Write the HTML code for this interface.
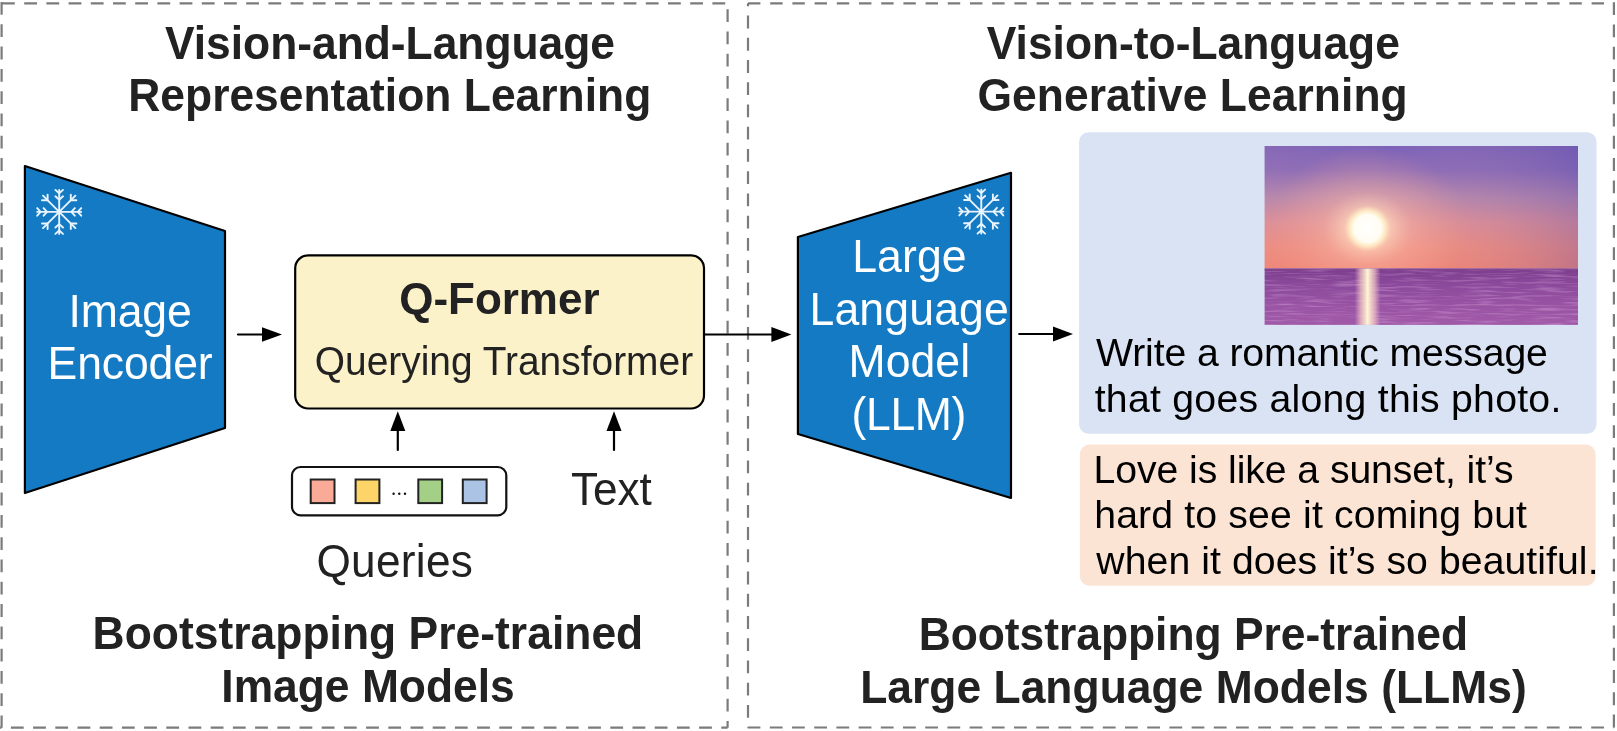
<!DOCTYPE html>
<html><head><meta charset="utf-8">
<style>
html,body{margin:0;padding:0;background:#fff;width:1617px;height:731px;overflow:hidden}
svg{display:block;will-change:transform}
text{font-family:"Liberation Sans",sans-serif}
</style></head>
<body>
<svg width="1617" height="731" viewBox="0 0 1617 731">
<defs>
  <g id="flake" stroke="#eaf4ff" stroke-width="1.9" fill="none" stroke-linecap="round" stroke-linejoin="round">
    <path d="M0,-22 V22 M-22,0 H22 M-16.2,-16.2 L16.2,16.2 M-16.2,16.2 L16.2,-16.2"/>
    <g id="arm">
      <path d="M-3.8,-22 L0,-18.6 L3.8,-22 M-3.8,-15.6 L0,-12.2 L3.8,-15.6"/>
    </g>
    <use href="#arm" transform="rotate(90)"/>
    <use href="#arm" transform="rotate(180)"/>
    <use href="#arm" transform="rotate(270)"/>
    <g id="darm"><path d="M-11.6,-17.2 L-11.6,-11.6 L-17.2,-11.6"/></g>
    <use href="#darm" transform="rotate(90)"/>
    <use href="#darm" transform="rotate(180)"/>
    <use href="#darm" transform="rotate(270)"/>
  </g>
  <linearGradient id="sky" x1="0" y1="0" x2="0" y2="1">
    <stop offset="0" stop-color="#7c62b8"/>
    <stop offset="0.2" stop-color="#8a6bb8"/>
    <stop offset="0.42" stop-color="#b486ae"/>
    <stop offset="0.62" stop-color="#dc8e98"/>
    <stop offset="0.82" stop-color="#ee8c80"/>
    <stop offset="1" stop-color="#f08676"/>
  </linearGradient>
  <linearGradient id="skyside" x1="0" y1="0" x2="1" y2="0">
    <stop offset="0" stop-color="#e0a0a0" stop-opacity="0.1"/>
    <stop offset="0.4" stop-color="#e0a0a0" stop-opacity="0"/>
    <stop offset="1" stop-color="#5a4aa8" stop-opacity="0.3"/>
  </linearGradient>
  <linearGradient id="sea" x1="0" y1="0" x2="0" y2="1">
    <stop offset="0" stop-color="#7c3e8e"/>
    <stop offset="0.3" stop-color="#8c4a9c"/>
    <stop offset="0.7" stop-color="#9a54a4"/>
    <stop offset="1" stop-color="#a05aa8"/>
  </linearGradient>
  <filter id="waves" x="0" y="0" width="100%" height="100%">
    <feTurbulence type="fractalNoise" baseFrequency="0.03 0.45" numOctaves="2" seed="3" result="n"/>
    <feColorMatrix in="n" type="matrix" values="0 0 0 0 0.85  0 0 0 0 0.55  0 0 0 0 0.85  0 0 0 1.6 -0.75"/>
  </filter>
  <radialGradient id="halo" cx="0.5" cy="0.5" r="0.5">
    <stop offset="0" stop-color="#fff6e0" stop-opacity="1"/>
    <stop offset="0.18" stop-color="#ffdcc0" stop-opacity="0.85"/>
    <stop offset="0.45" stop-color="#f8b4a4" stop-opacity="0.45"/>
    <stop offset="1" stop-color="#f0a090" stop-opacity="0"/>
  </radialGradient>
  <radialGradient id="sun" cx="0.5" cy="0.5" r="0.5">
    <stop offset="0" stop-color="#ffffff"/>
    <stop offset="0.6" stop-color="#fffdf2"/>
    <stop offset="0.78" stop-color="#fff2c8" stop-opacity="0.75"/>
    <stop offset="1" stop-color="#ffe0b8" stop-opacity="0"/>
  </radialGradient>
  <linearGradient id="refl" x1="0" y1="0" x2="1" y2="0">
    <stop offset="0" stop-color="#f0c0d0" stop-opacity="0"/>
    <stop offset="0.22" stop-color="#ffd8c8" stop-opacity="0.6"/>
    <stop offset="0.5" stop-color="#fff6d4" stop-opacity="1"/>
    <stop offset="0.78" stop-color="#ffd8c8" stop-opacity="0.6"/>
    <stop offset="1" stop-color="#f0c0d0" stop-opacity="0"/>
  </linearGradient>
  <clipPath id="skyclip"><rect x="1264.6" y="146" width="313.4" height="122.5"/></clipPath>
  <clipPath id="seaclip"><rect x="1264.6" y="268.5" width="313.4" height="56.39999999999998"/></clipPath>
</defs>

<!-- dashed frames -->
<g stroke="#7b7b7b" stroke-width="2.2" fill="none">
  <line x1="1.6" y1="3.3" x2="727.6" y2="3.3" stroke-dasharray="12.8 9.4" stroke-dashoffset="-0.4"/>
  <line x1="1.6" y1="2" x2="1.6" y2="727.7" stroke-dasharray="12.8 9.5"/>
  <line x1="727.6" y1="0" x2="727.6" y2="727.7" stroke-dasharray="12.8 9.44" stroke-dashoffset="-9.3"/>
  <line x1="0" y1="727.7" x2="727.6" y2="727.7" stroke-dasharray="12.8 9.4" stroke-dashoffset="-10.9"/>
  <line x1="748" y1="3.3" x2="1613.9" y2="3.3" stroke-dasharray="12.4 9.8"/>
  <line x1="748" y1="3.3" x2="748" y2="727.5" stroke-dasharray="12.8 9.44" stroke-dashoffset="9.94"/>
  <line x1="1613.9" y1="2.3" x2="1613.9" y2="727.5" stroke-dasharray="12.8 9.46"/>
  <line x1="747.6" y1="727.5" x2="1613.9" y2="727.5" stroke-dasharray="12.8 9.4"/>
</g>

<!-- titles -->
<text id="t1" fill="#222" font-size="44.4" font-weight="700" transform="translate(165.00,59.00) scale(1,1.025)" textLength="450.06" lengthAdjust="spacing">Vision-and-Language</text>
<text id="t2" fill="#222" font-size="44.4" font-weight="700" transform="translate(128.30,111.40) scale(1,1.025)" textLength="522.94" lengthAdjust="spacing">Representation Learning</text>
<text id="t3" fill="#222" font-size="44.4" font-weight="700" transform="translate(92.56,649.30) scale(1,1.025)" textLength="550.68" lengthAdjust="spacing">Bootstrapping Pre-trained</text>
<text id="t4" fill="#222" font-size="44.4" font-weight="700" transform="translate(221.30,702.00) scale(1,1.025)" textLength="293.47" lengthAdjust="spacing">Image Models</text>
<text id="t5" fill="#222" font-size="44.4" font-weight="700" transform="translate(986.84,58.90) scale(1,1.025)" textLength="413.04" lengthAdjust="spacing">Vision-to-Language</text>
<text id="t6" fill="#222" font-size="44.4" font-weight="700" transform="translate(977.46,111.20) scale(1,1.025)" textLength="430.23" lengthAdjust="spacing">Generative Learning</text>
<text id="t7" fill="#222" font-size="44.4" font-weight="700" transform="translate(918.67,650.00) scale(1,1.025)" textLength="549.36" lengthAdjust="spacing">Bootstrapping Pre-trained</text>
<text id="t8" fill="#222" font-size="44.4" font-weight="700" transform="translate(860.14,702.70) scale(1,1.025)" textLength="666.59" lengthAdjust="spacing">Large Language Models (LLMs)</text>

<!-- image encoder -->
<polygon points="24.9,166 225,231 225,428 24.9,493" fill="#147ac4" stroke="#000" stroke-width="2.2" stroke-linejoin="round"/>
<use href="#flake" transform="translate(59.2,211.9)"/>
<text id="img" fill="#fff" font-size="44.6" font-weight="400" transform="translate(68.61,327.40) scale(1,1.025)" textLength="123.15" lengthAdjust="spacing">Image</text>
<text id="enc" fill="#fff" font-size="44.6" font-weight="400" transform="translate(47.61,379.30) scale(1,1.025)" textLength="165.04" lengthAdjust="spacing">Encoder</text>

<!-- arrows -->
<g stroke="#000" stroke-width="2.2" stroke-linecap="round" fill="#000">
  <line x1="238" y1="334.5" x2="264" y2="334.5"/>
  <polygon points="262,327.2 282,334.5 262,341.8" stroke="none"/>
  <line x1="704" y1="334.5" x2="773" y2="334.5"/>
  <polygon points="771.4,327 791.4,334.5 771.4,342" stroke="none"/>
  <line x1="1019.2" y1="334" x2="1055" y2="334"/>
  <polygon points="1053,326.6 1073,334 1053,341.4" stroke="none"/>
  <line x1="397.8" y1="450" x2="397.8" y2="428"/>
  <polygon points="390.3,431 397.8,411.2 405.3,431" stroke="none"/>
  <line x1="614" y1="450" x2="614" y2="428"/>
  <polygon points="606.5,431 614,411.2 621.5,431" stroke="none"/>
</g>

<!-- Q-Former -->
<rect x="295.2" y="255.3" width="408.8" height="153.2" rx="13" ry="13" fill="#fbf2ca" stroke="#000" stroke-width="2.2"/>
<text id="qf" fill="#222" font-size="44" font-weight="700" transform="translate(399.20,314.30) scale(1,1.025)" textLength="200.36" lengthAdjust="spacing">Q-Former</text>
<text id="qt" fill="#222" font-size="38.9" font-weight="400" transform="translate(314.78,375.10) scale(1,1.025)" textLength="378.34" lengthAdjust="spacing">Querying Transformer</text>

<!-- queries -->
<rect x="292" y="467" width="214.3" height="48.3" rx="8.5" ry="8.5" fill="#fff" stroke="#111" stroke-width="2.2"/>
<g stroke="#222" stroke-width="2">
  <rect x="310.7" y="479.5" width="23.8" height="23.6" fill="#f9ab97"/>
  <rect x="355.6" y="479.5" width="23.8" height="23.6" fill="#fdd467"/>
  <rect x="418.3" y="479.5" width="23.8" height="23.6" fill="#a4cf86"/>
  <rect x="462.8" y="479.5" width="23.8" height="23.6" fill="#abc4e6"/>
</g>
<g fill="#111">
  <circle cx="393.6" cy="493.8" r="1.2"/>
  <circle cx="399.3" cy="493.8" r="1.2"/>
  <circle cx="405" cy="493.8" r="1.2"/>
</g>
<text id="txt" fill="#222" font-size="44.2" font-weight="400" transform="translate(571.05,505.20) scale(1,1.025)" textLength="80.79" lengthAdjust="spacing">Text</text>
<text id="qrs" fill="#222" font-size="44.2" font-weight="400" transform="translate(316.46,577.00) scale(1,1.025)" textLength="156.37" lengthAdjust="spacing">Queries</text>

<!-- LLM -->
<polygon points="797.9,237 1011,172.8 1011,498 797.9,434" fill="#147ac4" stroke="#000" stroke-width="2.2" stroke-linejoin="round"/>
<use href="#flake" transform="translate(981.3,211.6)"/>
<text id="l1" fill="#fff" font-size="44.6" font-weight="400" transform="translate(852.19,272.10) scale(1,1.025)" textLength="114.38" lengthAdjust="spacing">Large</text>
<text id="l2" fill="#fff" font-size="44.6" font-weight="400" transform="translate(809.45,325.10) scale(1,1.025)" textLength="199.43" lengthAdjust="spacing">Language</text>
<text id="l3" fill="#fff" font-size="44.6" font-weight="400" transform="translate(848.61,377.40) scale(1,1.025)" textLength="121.46" lengthAdjust="spacing">Model</text>
<text id="l4" fill="#fff" font-size="44.6" font-weight="400" transform="translate(851.56,430.10) scale(1,1.025)" textLength="114.88" lengthAdjust="spacing">(LLM)</text>

<!-- chat boxes -->
<rect x="1079.1" y="132.3" width="517.4" height="301.5" rx="9.5" ry="9.5" fill="#dae3f3"/>
<rect x="1079.9" y="444.6" width="515.7" height="141.2" rx="9.5" ry="9.5" fill="#fce4d5"/>

<!-- photo -->
<g>
  <rect x="1264.6" y="146" width="313.4" height="122.5" fill="url(#sky)"/>
  <rect x="1264.6" y="146" width="313.4" height="122.5" fill="url(#skyside)"/>
  <g clip-path="url(#skyclip)">
    <ellipse cx="1367.6" cy="228.4" rx="100" ry="82" fill="url(#halo)"/>
    <circle cx="1367.6" cy="228.4" r="23" fill="url(#sun)"/>
  </g>
  <rect x="1264.6" y="268.5" width="313.4" height="56.39999999999998" fill="url(#sea)"/>
  <rect x="1264.6" y="268.5" width="313.4" height="56.39999999999998" fill="#fff" filter="url(#waves)" opacity="0.55"/>
  <rect x="1264.6" y="268.5" width="313.4" height="1.5" fill="#8a4a8e" opacity="0.5"/>
  <rect x="1354.6" y="268.5" width="26" height="56.39999999999998" fill="url(#refl)"/>
</g>

<text id="c1" fill="#000" font-size="39.2" font-weight="400" transform="translate(1096.00,366.30) scale(1,1.01)" textLength="451.91" lengthAdjust="spacing">Write a romantic message</text>
<text id="c2" fill="#000" font-size="39.2" font-weight="400" transform="translate(1094.68,411.90) scale(1,1.01)" textLength="466.62" lengthAdjust="spacing">that goes along this photo.</text>
<text id="c3" fill="#000" font-size="39.2" font-weight="400" transform="translate(1093.56,482.60) scale(1,1.01)" textLength="419.97" lengthAdjust="spacing">Love is like a sunset, it’s</text>
<text id="c4" fill="#000" font-size="39.2" font-weight="400" transform="translate(1094.25,528.40) scale(1,1.01)" textLength="432.77" lengthAdjust="spacing">hard to see it coming but</text>
<text id="c5" fill="#000" font-size="39.2" font-weight="400" transform="translate(1096.37,573.60) scale(1,1.01)" textLength="502.18" lengthAdjust="spacing">when it does it’s so beautiful.</text>
</svg>
</body></html>
